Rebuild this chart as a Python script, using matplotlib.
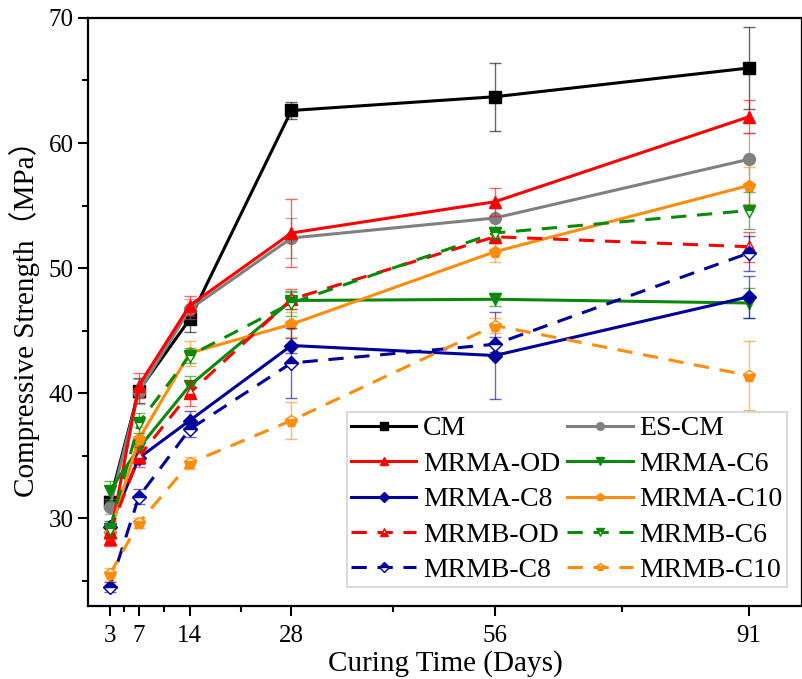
import matplotlib
matplotlib.use('Agg')
import matplotlib.pyplot as plt
from matplotlib.ticker import FixedLocator, MultipleLocator

plt.rcParams['font.family'] = ['Liberation Serif', 'Noto Sans CJK SC']

# %% data ----------------------------------------------------------------------
days = [3, 7, 14, 28, 56, 91]

names = ['CM', 'ES-CM', 'MRMA-OD', 'MRMA-C6', 'MRMA-C8', 'MRMA-C10',
         'MRMB-OD', 'MRMB-C6', 'MRMB-C8', 'MRMB-C10']

cm        = [31.3, 40.2, 45.9, 62.6, 63.7, 66.0]
es_cm     = [30.9, 40.1, 46.7, 52.4, 54.0, 58.7]
mrma_od   = [28.3, 40.6, 47.0, 52.8, 55.3, 62.1]
mrma_c6   = [32.2, 35.6, 40.6, 47.4, 47.5, 47.2]
mrma_c8   = [29.3, 34.8, 37.8, 43.8, 43.0, 47.7]
mrma_c10  = [28.8, 36.3, 43.2, 45.5, 51.3, 56.6]
mrmb_od   = [28.9, 34.9, 40.0, 47.5, 52.5, 51.7]
mrmb_c6   = [29.1, 37.6, 43.0, 47.2, 52.8, 54.6]
mrmb_c8   = [24.5, 31.7, 37.1, 42.4, 43.9, 51.2]
mrmb_c10  = [25.5, 29.6, 34.4, 37.8, 45.4, 41.4]

err_cm       = [0.5, 1.0, 1.0, 0.7, 2.7, 3.3]
err_es_cm    = [0.6, 1.0, 0.8, 1.6, 0.8, 2.1]
err_mrma_od  = [0.5, 1.0, 0.8, 2.7, 1.1, 1.3]
err_mrma_c6  = [0.8, 0.8, 0.8, 0.7, 0.5, 1.2]
err_mrma_c8  = [0.5, 0.5, 0.8, 0.6, 3.5, 1.7]
err_mrma_c10 = [0.5, 1.0, 1.0, 1.0, 0.8, 1.5]
err_mrmb_od  = [0.6, 0.8, 1.0, 0.8, 0.5, 1.2]
err_mrmb_c6  = [0.5, 0.8, 0.6, 1.0, 0.5, 1.5]
err_mrmb_c8  = [0.4, 0.6, 0.6, 2.8, 0.6, 1.4]
err_mrmb_c10 = [0.5, 0.4, 0.5, 1.5, 0.6, 2.75]

values = [cm, es_cm, mrma_od, mrma_c6, mrma_c8, mrma_c10,
          mrmb_od, mrmb_c6, mrmb_c8, mrmb_c10]
errors = [err_cm, err_es_cm, err_mrma_od, err_mrma_c6, err_mrma_c8, err_mrma_c10,
          err_mrmb_od, err_mrmb_c6, err_mrmb_c8, err_mrmb_c10]

colors  = ['black', '#808080', '#ff0000', '#0a8a0a', '#00009c', '#ff8c0a',
           '#ff0000', '#0a8a0a', '#00009c', '#ff8c0a']
markers = ['s', 'o', '^', 'v', 'D', 'p', '^', 'v', 'D', 'p']
# None = solid line, filled marker; otherwise dashed line, half-filled marker
halves  = [None] * 6 + ['bottom', 'top', 'top', 'bottom']

# %% figure --------------------------------------------------------------------
fig = plt.figure(figsize=(8.03, 6.79), dpi=100)
ax = fig.add_axes([0.1096, 0.1082, 0.8892, 0.8653])

for name, y, e, c, m, h in zip(names, values, errors, colors, markers, halves):
    ax.errorbar(days, y, yerr=e, fmt='none', ecolor=c, elinewidth=1.0,
                capsize=4, capthick=1.0, alpha=0.6)
    ms = 8.5 if m != 'D' else 7.5
    if h:
        ax.plot(days, y, color=c, lw=2.2, dashes=(5, 3.5),
                marker=m, ms=ms, fillstyle=h,
                markerfacecolor=c, markerfacecoloralt='white',
                markeredgecolor=c, markeredgewidth=1.0,
                label=name)
    else:
        ax.plot(days, y, color=c, lw=2.2, marker=m, ms=ms,
                markerfacecolor=c, markeredgecolor=c, label=name)

ax.set_xlim(0, 98.3)
ax.set_ylim(23, 70)

ax.xaxis.set_major_locator(FixedLocator(days))
ax.xaxis.set_minor_locator(FixedLocator([5, 10.5, 21, 42, 73.5]))
ax.yaxis.set_major_locator(MultipleLocator(10))
ax.yaxis.set_minor_locator(MultipleLocator(5))

ax.tick_params(which='major', direction='out', length=7, width=1.5, labelsize=18)
ax.tick_params(which='minor', direction='out', length=4, width=1.5)
ax.tick_params(axis='x', which='major', pad=7)
for sp in ax.spines.values():
    sp.set_linewidth(1.6)

ax.set_xlabel('Curing Time (Days)', fontsize=21, labelpad=2)
ax.set_ylabel('Compressive Strength（MPa）', fontsize=21, labelpad=6)

# legend filled row by row
handles, labels = ax.get_legend_handles_labels()
order = [0, 2, 4, 6, 8, 1, 3, 5, 7, 9]
leg = ax.legend([handles[i] for i in order], [labels[i] for i in order],
                ncol=2, loc='lower right', bbox_to_anchor=(0.979, 0.031),
                borderaxespad=0,
                fontsize=20, frameon=True, fancybox=False,
                handlelength=2.35, handletextpad=0.25, columnspacing=0.25,
                labelspacing=0.36, borderpad=0.15, markerscale=0.65)
leg.get_frame().set_edgecolor('#c8c8c8')
leg.get_frame().set_linewidth(1.2)

plt.savefig('out.png', dpi=100)
